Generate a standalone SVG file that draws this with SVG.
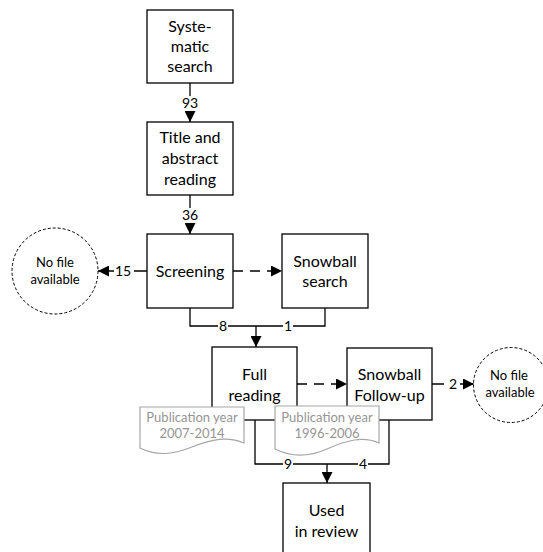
<svg xmlns="http://www.w3.org/2000/svg" width="543" height="552" viewBox="0 0 543 552">
<style>
.box{fill:#fff;stroke:#000;stroke-width:1.3}
.t{font-family:Lato,"Liberation Sans",sans-serif;font-size:16px;fill:#000;text-anchor:middle}
.c{font-family:Lato,"Liberation Sans",sans-serif;font-size:13px;fill:#000;text-anchor:middle}
.lbl{font-family:Lato,"Liberation Sans",sans-serif;font-size:14px;fill:#000;text-anchor:middle}
.circ{fill:#fff;stroke:#000;stroke-width:1;stroke-dasharray:3 2}
.doc{fill:#fff;stroke:#a6a6a6;stroke-width:1.2}
.dt{font-family:Lato,"Liberation Sans",sans-serif;font-size:13px;fill:#959595;text-anchor:middle}
.ln{fill:none;stroke:#000;stroke-width:1.3}
.dash{stroke-dasharray:10 7}
.bg{fill:#fff}
</style>
<defs>
<marker id="ah" markerUnits="userSpaceOnUse" markerWidth="11" markerHeight="11" refX="11" refY="5.5" orient="auto">
<path d="M0,0 L11,5.5 L0,11 Z" fill="#000"/>
</marker>
</defs>

<g id="connectors">
<path class="ln" d="M190,83 V122" marker-end="url(#ah)"/>
<path class="ln" d="M190,195 V234" marker-end="url(#ah)"/>
<path class="ln" d="M147,271 H98" marker-end="url(#ah)"/>
<path class="ln dash" d="M233,271 H282" marker-end="url(#ah)"/>
<path class="ln" d="M190,308 V326 H325 V308"/>
<path class="ln" d="M256,326 V347" marker-end="url(#ah)"/>
<path class="ln dash" d="M297,384 H347" marker-end="url(#ah)"/>
<path class="ln" d="M432,384 H474" marker-end="url(#ah)"/>
<path class="ln" d="M255,420 V464 H389 V420"/>
<path class="ln" d="M327,464 V483" marker-end="url(#ah)"/>
<rect class="bg" x="182" y="96" width="16" height="15"/>
<text class="lbl" x="190" y="108">93</text>
<rect class="bg" x="182" y="208" width="16" height="15"/>
<text class="lbl" x="190" y="220">36</text>
<rect class="bg" x="114" y="264" width="20" height="15"/>
<text class="lbl" x="123" y="276">15</text>
<rect class="bg" x="218" y="319" width="10" height="14"/>
<text class="lbl" x="223" y="331">8</text>
<rect class="bg" x="283" y="319" width="10" height="14"/>
<text class="lbl" x="288" y="331">1</text>
<rect class="bg" x="444" y="377" width="16" height="14"/>
<text class="lbl" x="453" y="389">2</text>
<rect class="bg" x="283" y="457" width="10" height="14"/>
<text class="lbl" x="288" y="469">9</text>
<rect class="bg" x="358" y="457" width="10" height="14"/>
<text class="lbl" x="363" y="469">4</text>
</g>

<g id="systematic-search">
<rect class="box" x="147" y="10" width="86" height="73"/>
<text class="t" x="190" y="32">Syste-</text>
<text class="t" x="190" y="52">matic</text>
<text class="t" x="190" y="72">search</text>
</g>

<g id="title-abstract">
<rect class="box" x="147" y="122" width="86" height="73"/>
<text class="t" x="190" y="143">Title and</text>
<text class="t" x="190" y="164">abstract</text>
<text class="t" x="190" y="185">reading</text>
</g>

<g id="screening">
<rect class="box" x="147" y="234" width="86" height="74"/>
<text class="t" x="190" y="277">Screening</text>
</g>

<g id="no-file-left">
<circle class="circ" cx="55" cy="271" r="43"/>
<text class="c" x="55" y="267">No file</text>
<text class="c" x="55" y="284">available</text>
</g>

<g id="snowball-search">
<rect class="box" x="282" y="234" width="86" height="74"/>
<text class="t" x="325" y="267">Snowball</text>
<text class="t" x="325" y="287">search</text>
</g>

<g id="full-reading">
<rect class="box" x="212" y="347" width="85" height="73"/>
<text class="t" x="254.5" y="380">Full</text>
<text class="t" x="254.5" y="401">reading</text>
</g>

<g id="snowball-followup">
<rect class="box" x="347" y="348" width="85" height="72"/>
<text class="t" x="389.5" y="380">Snowball</text>
<text class="t" x="389.5" y="401">Follow-up</text>
</g>

<g id="no-file-right">
<circle class="circ" cx="511" cy="385" r="37.5"/>
<text class="c" x="509" y="380">No file</text>
<text class="c" x="510" y="397">available</text>
</g>

<g id="doc-2007-2014">
<path class="doc" d="M140,407 H244 V443 C228,436 212,439 192,447 S156,456 140,448 Z"/>
<text class="dt" x="192" y="421.5">Publication year</text>
<text class="dt" x="192" y="437.5">2007-2014</text>
</g>

<g id="doc-1996-2006">
<path class="doc" d="M275,406 H379 V443 C363,436 347,440 327,449 S291,457 275,449 Z"/>
<text class="dt" x="327" y="421.5">Publication year</text>
<text class="dt" x="327" y="437.5">1996-2006</text>
</g>

<g id="used-in-review">
<rect class="box" x="283" y="483" width="87" height="74"/>
<text class="t" x="326.5" y="516">Used</text>
<text class="t" x="326.5" y="537">in review</text>
</g>
</svg>
